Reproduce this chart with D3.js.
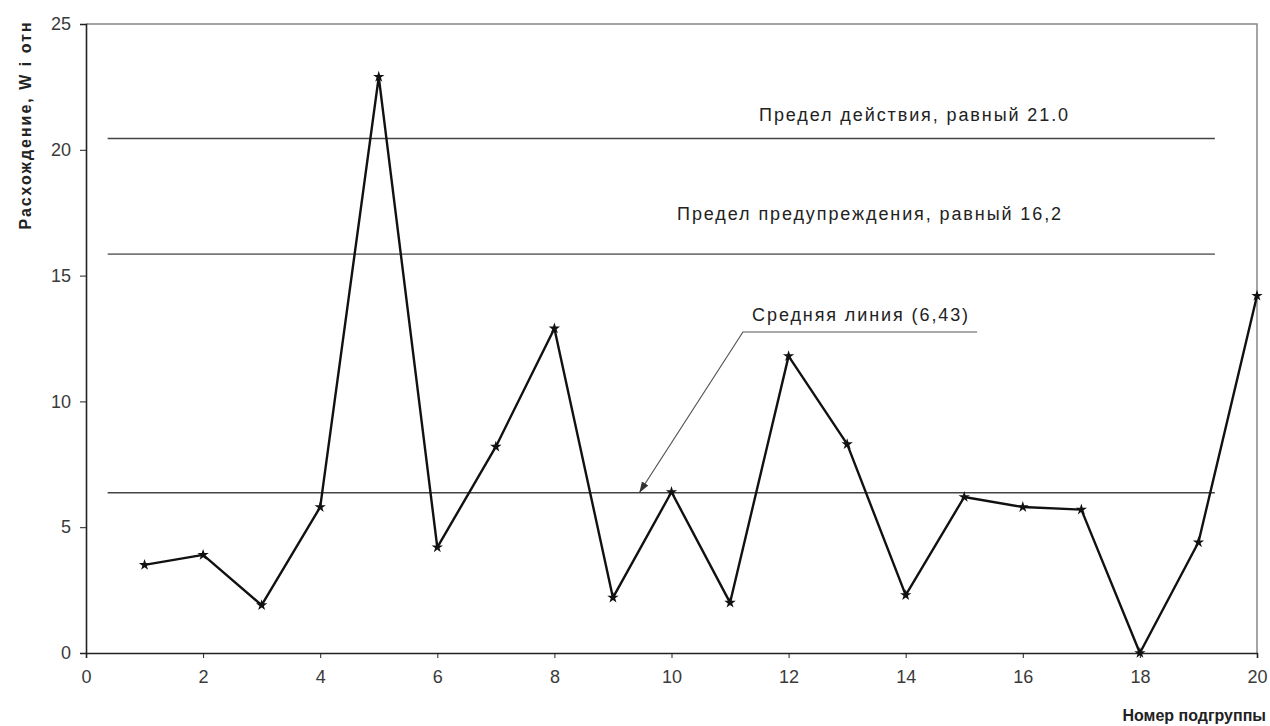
<!DOCTYPE html>
<html lang="ru">
<head>
<meta charset="utf-8">
<title>Расхождение по подгруппам</title>
<script src="https://cdn.jsdelivr.net/npm/d3@7"></script>
<style>
  body { margin: 0; background: #fff; }
  svg text { font-family: "Liberation Sans", Arial, sans-serif; }
  .tick text { font-size: 18px; fill: #3a3a3a; }
  .tick line, .domain { stroke: #222; }
  .lbl { font-size: 18px; fill: #222; letter-spacing: 1.9px; }
</style>
</head>
<body>
<svg id="chart" width="1270" height="726"></svg>
<script>
// data
var subgroups = [1,2,3,4,5,6,7,8,9,10,11,12,13,14,15,16,17,18,19,20];
var divergence = [3.5,3.9,1.9,5.8,22.9,4.2,8.2,12.9,2.2,6.4,2.0,11.8,8.3,2.3,6.2,5.8,5.7,0,4.4,14.2];
var xTicks = [0,2,4,6,8,10,12,14,16,18,20];
var yTicks = [0,5,10,15,20,25];
// control lines as drawn (labels carry the nominal values)
var limitNames = ["Предел действия, равный 21.0", "Предел предупреждения, равный 16,2", "Средняя линия (6,43)"];
var limitValues = [20.45, 15.85, 6.37];

var svg = d3.select("#chart");
var x = d3.scaleLinear().domain([0, 20]).range([86, 1257]);
var y = d3.scaleLinear().domain([0, 25]).range([653, 24]);

// frame top + right
svg.append("path")
   .attr("d", "M" + x(0) + "," + y(25) + "H" + x(20) + "V" + y(0))
   .attr("fill", "none").attr("stroke", "#888").attr("stroke-width", 1.5);

// axes
svg.append("g")
   .attr("transform", "translate(0," + y(0) + ")")
   .call(d3.axisBottom(x).tickValues(xTicks).tickSize(5).tickPadding(12))
   .call(function(g) { g.select(".domain").attr("stroke-width", 1.6); });

svg.append("g")
   .attr("transform", "translate(" + x(0) + ",0)")
   .call(d3.axisLeft(y).tickValues(yTicks).tickSize(6).tickPadding(9))
   .call(function(g) { g.select(".domain").attr("stroke-width", 1.6); });

// control lines
svg.selectAll(".limit").data(limitValues).enter().append("line")
   .attr("class", "limit")
   .attr("x1", x(0.37)).attr("x2", x(19.28))
   .attr("y1", function(d) { return y(d); })
   .attr("y2", function(d) { return y(d); })
   .attr("stroke", function(d, i) { return i == 1 ? "#777" : "#444"; })
   .attr("stroke-width", 1.7);

// labels for the limits
svg.append("text").attr("class", "lbl").attr("x", 1070).attr("y", 121)
   .attr("text-anchor", "end").text(limitNames[0]);
svg.append("text").attr("class", "lbl").attr("x", 1063).attr("y", 220)
   .attr("text-anchor", "end").text(limitNames[1]);
svg.append("text").attr("class", "lbl").attr("x", 970).attr("y", 321)
   .attr("text-anchor", "end").text(limitNames[2]);

// leader with arrow to mean line
svg.append("defs").append("marker")
   .attr("id", "arr").attr("viewBox", "0 0 10 10")
   .attr("refX", 9).attr("refY", 5)
   .attr("markerWidth", 9).attr("markerHeight", 9)
   .attr("orient", "auto")
   .append("path").attr("d", "M0,1.5L10,5L0,8.5Z").attr("fill", "#333");

svg.append("path")
   .attr("d", "M" + x(15.22) + "," + 332 + "H" + x(11.22) + "L" + x(9.46) + "," + (y(limitValues[2]) - 1))
   .attr("fill", "none").attr("stroke", "#555").attr("stroke-width", 1.2)
   .attr("marker-end", "url(#arr)");

// data line
var line = d3.line()
   .x(function(d, i) { return x(subgroups[i]); })
   .y(function(d) { return y(d); });

svg.append("path").datum(divergence)
   .attr("d", line)
   .attr("fill", "none").attr("stroke", "#111").attr("stroke-width", 2.4)
   .attr("stroke-linejoin", "round");

svg.selectAll(".pt").data(divergence).enter().append("path")
   .attr("class", "pt")
   .attr("transform", function(d, i) { return "translate(" + x(subgroups[i]) + "," + y(d) + ")"; })
   .attr("d", d3.symbol().type(d3.symbolStar).size(40))
   .attr("fill", "#111");

// axis titles
svg.append("text")
   .attr("transform", "translate(31,125) rotate(-90)")
   .attr("text-anchor", "middle").attr("font-size", 16).attr("font-weight", "bold")
   .attr("letter-spacing", 2)
   .attr("fill", "#222").text("Расхождение, W i отн");

svg.append("text").attr("x", 1266).attr("y", 721).attr("text-anchor", "end")
   .attr("font-size", 16).attr("font-weight", "bold").attr("fill", "#222")
   .text("Номер подгруппы");
</script>
</body>
</html>
